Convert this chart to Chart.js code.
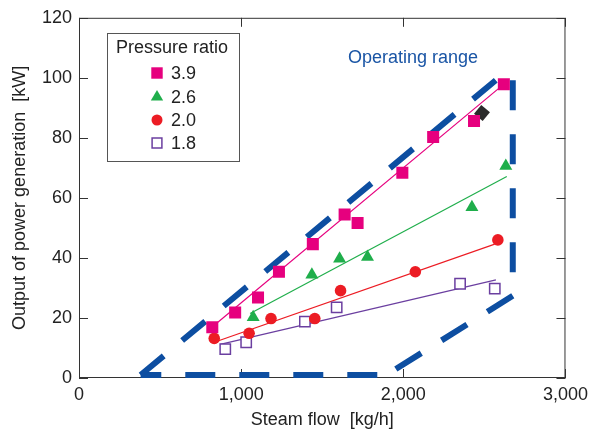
<!DOCTYPE html>
<html>
<head>
<meta charset="utf-8">
<title>Output of power generation vs steam flow</title>
<script src="https://cdn.jsdelivr.net/npm/chart.js@4.4.1/dist/chart.umd.min.js"></script>
<style>
  html, body { margin: 0; padding: 0; background: #fff; }
  #wrap { width: 594px; height: 432px; }
</style>
</head>
<body>
<div id="wrap"><canvas id="chart" width="594" height="432"></canvas></div>
<script>
// === data ===
const xTickValues = [0, 1000, 2000, 3000];
const xTickLabels = ['0', '1,000', '2,000', '3,000'];
const yTickValues = [0, 20, 40, 60, 80, 100, 120];
const yTickLabels = ['0', '20', '40', '60', '80', '100', '120'];

const seriesNames = ['3.9', '2.6', '2.0', '1.8'];

// measured points, steam flow [kg/h] / output [kW]
const pr39Flow = [822, 963, 1104, 1233, 1442, 1638, 1718, 1994, 2184, 2436, 2620];
const pr39Power = [16.9, 21.8, 26.8, 35.4, 44.6, 54.5, 51.6, 68.4, 80.3, 85.6, 97.9];
const pr26Flow = [1074, 1436, 1607, 1779, 2423, 2632];
const pr26Power = [20.2, 34.4, 39.7, 40.3, 56.9, 70.6];
const pr20Flow = [834, 1049, 1184, 1454, 1613, 2074, 2583];
const pr20Power = [13.2, 14.9, 19.8, 19.8, 29.1, 35.4, 46.0];
const pr18Flow = [902, 1031, 1393, 1589, 2350, 2564];
const pr18Power = [9.6, 11.9, 18.8, 23.5, 31.4, 29.8];

// the dark marker hidden behind the 3.9 series
const darkFlow = [2485];
const darkPower = [88.3];

// fitted lines (end points)
const fit39Flow = [810, 2620];
const fit39Power = [16.5, 97.9];
const fit26Flow = [1055, 2638];
const fit26Power = [21.5, 67.1];
const fit20Flow = [834, 2564];
const fit20Power = [11.9, 44.6];
const fit18Flow = [871, 2571];
const fit18Power = [11.2, 32.7];

// operating range outline, one edge at a time
const rangeUpperFlow = [380, 2570];
const rangeUpperPower = [1.0, 99.2];
const rangeRightFlow = [2675, 2675];
const rangeRightPower = [99.2, 27.4];
const rangeLowerFlow = [2675, 1895];
const rangeLowerPower = [27.4, 1.0];
const rangeBottomFlow = [1895, 380];
const rangeBottomPower = [1.0, 1.0];

const rangeLabel = 'Operating range';
const legendTitle = 'Pressure ratio';

const colors = {
  pink: '#e6007e',
  green: '#1fae4b',
  red: '#ec1c24',
  purple: '#6b3fa0',
  blue: '#0d4ea1',
  text: '#222'
};
const FONT = 'Arial, "Liberation Sans", Helvetica, sans-serif';
const FS = 18;

function pts(xs, ys) {
  return xs.map((x, i) => ({ x: x, y: ys[i] }));
}

function scatter(label, xs, ys, style, color, radius, fill) {
  return {
    type: 'scatter',
    label: label,
    data: pts(xs, ys),
    pointStyle: style,
    pointRadius: radius,
    pointHoverRadius: radius,
    backgroundColor: fill || color,
    borderColor: color,
    pointBorderWidth: fill ? 1.5 : 0,
    order: 1
  };
}

function fitLine(xs, ys, color) {
  return {
    type: 'line',
    data: pts(xs, ys),
    borderColor: color,
    borderWidth: 1.2,
    pointRadius: 0,
    fill: false,
    order: 5
  };
}

function rangeEdge(xs, ys, offset) {
  return {
    type: 'line',
    data: pts(xs, ys),
    borderColor: colors.blue,
    borderWidth: 6,
    borderDash: [30, 24],
    borderDashOffset: offset,
    borderCapStyle: 'butt',
    pointRadius: 0,
    fill: false,
    tension: 0,
    order: 10
  };
}

const markerSets = [
  scatter('3.9', pr39Flow, pr39Power, 'rect', colors.pink, 8.5),
  scatter('2.6', pr26Flow, pr26Power, 'triangle', colors.green, 7.5),
  scatter('2.0', pr20Flow, pr20Power, 'circle', colors.red, 5.8),
  scatter('1.8', pr18Flow, pr18Power, 'rect', colors.purple, 7.3, '#fff')
];

const darkSet = {
  type: 'scatter',
  data: pts(darkFlow, darkPower),
  pointStyle: 'rect',
  rotation: 40,
  pointRadius: 8,
  backgroundColor: '#2b2b2b',
  borderWidth: 0,
  order: 2
};

// box with inward ticks, the range label and the legend
const framePlugin = {
  id: 'frame',
  beforeDatasetsDraw(chart) {
    const { ctx, chartArea: a, scales } = chart;
    ctx.save();
    ctx.strokeStyle = '#333';
    ctx.lineWidth = 1;
    ctx.beginPath();
    ctx.rect(a.left + 0.5, a.top + 0.5, a.right - a.left - 1, a.bottom - a.top - 1);
    const len = 9;
    xTickValues.forEach(v => {
      const px = Math.round(scales.x.getPixelForValue(v)) + 0.5;
      ctx.moveTo(px, a.bottom); ctx.lineTo(px, a.bottom - len);
      ctx.moveTo(px, a.top); ctx.lineTo(px, a.top + len);
    });
    yTickValues.forEach(v => {
      const py = Math.round(scales.y.getPixelForValue(v)) + 0.5;
      ctx.moveTo(a.left, py); ctx.lineTo(a.left + len, py);
      ctx.moveTo(a.right, py); ctx.lineTo(a.right - len, py);
    });
    ctx.stroke();
    ctx.restore();
  },
  afterDatasetsDraw(chart) {
    const { ctx } = chart;
    ctx.save();
    ctx.font = FS + 'px ' + FONT;
    ctx.fillStyle = '#1a55a5';
    ctx.textAlign = 'center';
    ctx.textBaseline = 'middle';
    ctx.fillText(rangeLabel, 413, 58);

    // legend
    ctx.fillStyle = '#fff';
    ctx.fillRect(107, 33, 132, 128);
    ctx.strokeStyle = '#555';
    ctx.lineWidth = 1;
    ctx.strokeRect(107.5, 33.5, 132, 128);
    ctx.fillStyle = colors.text;
    ctx.fillText(legendTitle, 172, 48);
    ctx.textAlign = 'left';
    const rowY = [73, 97, 120, 143];
    markerSets.forEach((ds, i) => {
      ctx.fillStyle = ds.backgroundColor;
      ctx.strokeStyle = ds.borderColor;
      ctx.lineWidth = ds.pointBorderWidth;
      Chart.helpers.drawPoint(ctx, {
        pointStyle: ds.pointStyle,
        radius: ds.pointRadius * 0.95,
        rotation: 0,
        borderWidth: ds.pointBorderWidth
      }, 157, rowY[i]);
      ctx.fillStyle = colors.text;
      ctx.fillText(seriesNames[i], 171, rowY[i] + 1);
    });
    ctx.restore();
  }
};

new Chart(document.getElementById('chart'), {
  type: 'scatter',
  data: {
    datasets: [
      ...markerSets,
      darkSet,
      fitLine(fit39Flow, fit39Power, colors.pink),
      fitLine(fit26Flow, fit26Power, colors.green),
      fitLine(fit20Flow, fit20Power, colors.red),
      fitLine(fit18Flow, fit18Power, colors.purple),
      rangeEdge(rangeUpperFlow, rangeUpperPower, 0),
      rangeEdge(rangeRightFlow, rangeRightPower, 0),
      rangeEdge(rangeLowerFlow, rangeLowerPower, 0),
      rangeEdge(rangeBottomFlow, rangeBottomPower, 45)
    ]
  },
  options: {
    responsive: false,
    devicePixelRatio: 1,
    animation: false,
    layout: { padding: { top: 15, right: 26, left: 0, bottom: 0 } },
    plugins: {
      legend: { display: false },
      tooltip: { enabled: false }
    },
    scales: {
      x: {
        type: 'linear',
        min: 0,
        max: 3000,
        afterBuildTicks: s => { s.ticks = xTickValues.map(v => ({ value: v })); },
        afterFit: s => { s.height = 54; },
        grid: { display: false, drawTicks: false },
        border: { display: false },
        ticks: {
          color: colors.text,
          font: { size: FS, family: FONT },
          padding: 6,
          maxRotation: 0,
          callback: v => xTickLabels[xTickValues.indexOf(v)]
        },
        title: {
          display: true,
          text: 'Steam flow  [kg/h]',
          color: colors.text,
          font: { size: FS, family: FONT },
          padding: { top: 0, bottom: 1 }
        }
      },
      y: {
        type: 'linear',
        min: 0,
        max: 120,
        afterBuildTicks: s => { s.ticks = yTickValues.map(v => ({ value: v })); },
        afterFit: s => { s.width = 79; },
        grid: { display: false, drawTicks: false },
        border: { display: false },
        ticks: {
          color: colors.text,
          font: { size: FS, family: FONT },
          padding: 7,
          callback: v => yTickLabels[yTickValues.indexOf(v)]
        },
        title: {
          display: true,
          text: 'Output of power generation  [kW]',
          color: colors.text,
          font: { size: FS, family: FONT },
          padding: { top: 9, bottom: 0 }
        }
      }
    }
  },
  plugins: [framePlugin]
});
</script>
</body>
</html>
